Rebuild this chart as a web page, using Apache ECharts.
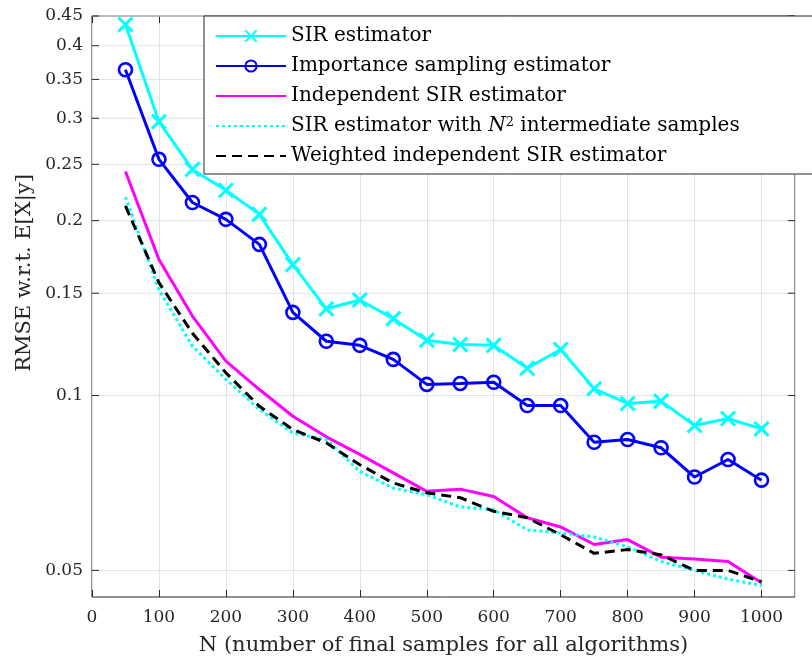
<!DOCTYPE html>
<html>
<head>
<meta charset="utf-8">
<title>RMSE vs number of samples</title>
<script src="https://cdn.jsdelivr.net/npm/echarts@6/dist/echarts.min.js"></script>
<style>
  html, body { margin: 0; padding: 0; background: #fff; }
  #chart { width: 812px; height: 662px; }
</style>
</head>
<body>
<div id="chart"></div>
<script>
// N values on the x axis
const sampleSizes = [50, 100, 150, 200, 250, 300, 350, 400, 450, 500, 550, 600, 650, 700, 750, 800, 850, 900, 950, 1000];

// RMSE per estimator
const sirEstimator = [0.435, 0.296, 0.245, 0.2256, 0.205, 0.168, 0.141, 0.146, 0.1356, 0.1245, 0.1224, 0.122, 0.1114, 0.120, 0.1027, 0.0969, 0.0978, 0.0888, 0.0913, 0.0876];
const importanceSampling = [0.3636, 0.255, 0.2149, 0.201, 0.182, 0.139, 0.124, 0.122, 0.1154, 0.1045, 0.1049, 0.1054, 0.0961, 0.0961, 0.0831, 0.084, 0.0813, 0.0724, 0.0776, 0.0715];
const independentSir = [0.243, 0.1715, 0.137, 0.1146, 0.1024, 0.0921, 0.0849, 0.0792, 0.0736, 0.0684, 0.069, 0.067, 0.0616, 0.0594, 0.0554, 0.0565, 0.0527, 0.0523, 0.0518, 0.0476];
const sirN2 = [0.2197, 0.152, 0.1216, 0.1066, 0.0946, 0.0862, 0.084, 0.074, 0.0693, 0.0675, 0.0643, 0.0636, 0.0587, 0.058, 0.0571, 0.0549, 0.0518, 0.05, 0.0483, 0.0471];
const weightedIndependentSir = [0.212, 0.1564, 0.128, 0.1094, 0.0958, 0.0874, 0.0829, 0.076, 0.0707, 0.068, 0.0667, 0.0632, 0.0616, 0.0576, 0.0535, 0.0543, 0.0532, 0.05, 0.05, 0.0478];

// y ticks (log axis, matlab style labels)
const yTickValues = [0.05, 0.1, 0.15, 0.2, 0.25, 0.3, 0.35, 0.4, 0.45];
const yTickLabels = ['0.05', '0.1', '0.15', '0.2', '0.25', '0.3', '0.35', '0.4', '0.45'];

const X_MIN = 0, X_MAX = 1050;
const Y_MIN = 0.045, Y_MAX = 0.45;
const FONT = 'DejaVu Serif';
const AXIS_COLOR = '#262626';
const GRID_COLOR = '#e2e2e2';

const chart = echarts.init(document.getElementById('chart'));

const pairs = (vals) => sampleSizes.map((n, i) => [n, vals[i]]);

function renderYTick(params, api) {
  const v = api.value(1);
  const left = api.coord([X_MIN, v]);
  const right = api.coord([X_MAX, v]);
  return {
    type: 'group',
    children: [
      { type: 'line', shape: { x1: left[0], y1: left[1], x2: right[0], y2: right[1] }, style: { stroke: GRID_COLOR, lineWidth: 1 } },
      { type: 'line', shape: { x1: left[0], y1: left[1], x2: left[0] + 7, y2: left[1] }, style: { stroke: AXIS_COLOR, lineWidth: 1 } },
      { type: 'line', shape: { x1: right[0] - 7, y1: right[1], x2: right[0], y2: right[1] }, style: { stroke: AXIS_COLOR, lineWidth: 1 } },
      {
        type: 'text',
        x: left[0] - 9,
        y: left[1],
        style: {
          text: yTickLabels[params.dataIndex],
          textAlign: 'right',
          textVerticalAlign: 'middle',
          font: '17px "' + FONT + '"',
          fill: AXIS_COLOR
        }
      }
    ]
  };
}

const legendNames = [
  'SIR estimator',
  'Importance sampling estimator',
  'Independent SIR estimator',
  'SIR estimator with N2 intermediate samples',
  'Weighted independent SIR estimator'
];

// lines without markers: hide the symbol in their legend icons
const noMarker = { opacity: 0 };

const option = {
  animation: false,
  backgroundColor: '#fff',
  grid: {
    left: 92, top: 16, right: 17, bottom: 65,
    outerBoundsMode: 'none',
    show: true, borderColor: AXIS_COLOR, borderWidth: 1, backgroundColor: 'transparent'
  },
  legend: {
    data: [
      { name: legendNames[0] },
      { name: legendNames[1] },
      { name: legendNames[2], itemStyle: noMarker },
      { name: legendNames[3], itemStyle: noMarker },
      { name: legendNames[4], itemStyle: noMarker }
    ],
    orient: 'vertical',
    left: 204,
    top: 16,
    padding: [10, 84, 8, 11],
    itemWidth: 70,
    itemHeight: 14,
    itemGap: 10,
    backgroundColor: '#fff',
    borderColor: AXIS_COLOR,
    borderWidth: 1,
    borderRadius: 0,
    textStyle: {
      fontFamily: FONT,
      fontSize: 20,
      color: '#000',
      rich: {
        it: { fontFamily: FONT, fontSize: 20, fontStyle: 'italic', color: '#000' },
        sup: { fontFamily: FONT, fontSize: 13, verticalAlign: 'top', padding: [0, 0, 6, 0], color: '#000' }
      }
    },
    formatter: (name) => name === legendNames[3]
      ? 'SIR estimator with {it|N}{sup|2} intermediate samples'
      : name
  },
  graphic: [{
    type: 'text',
    x: 25,
    y: 273,
    rotation: Math.PI / 2,
    style: {
      text: 'RMSE w.r.t. E[X|y]',
      font: '21px "' + FONT + '"',
      textAlign: 'center',
      textVerticalAlign: 'middle',
      fill: AXIS_COLOR
    }
  }],
  xAxis: [{
    type: 'value',
    min: X_MIN,
    max: X_MAX,
    interval: 100,
    name: 'N (number of final samples for all algorithms)',
    nameLocation: 'middle',
    nameGap: 38,
    nameTextStyle: { fontFamily: FONT, fontSize: 21, color: AXIS_COLOR },
    axisLine: { show: false },
    axisTick: { inside: true, length: 7, lineStyle: { color: AXIS_COLOR } },
    axisLabel: { fontFamily: FONT, fontSize: 17, color: AXIS_COLOR, margin: 12, showMaxLabel: false, formatter: (v) => String(v) },
    splitLine: { show: true, lineStyle: { color: GRID_COLOR, width: 1 } }
  }, {
    type: 'value',
    position: 'top',
    min: X_MIN,
    max: X_MAX,
    interval: 100,
    axisLine: { show: false },
    axisTick: { inside: true, length: 7, lineStyle: { color: AXIS_COLOR } },
    axisLabel: { show: false },
    splitLine: { show: false }
  }],
  yAxis: {
    type: 'log',
    logBase: 10,
    min: Y_MIN,
    max: Y_MAX,
    axisLine: { show: false },
    axisTick: { show: false },
    axisLabel: { show: false },
    splitLine: { show: false }
  },
  series: [
    {
      name: 'yTicks',
      type: 'custom',
      z: 1,
      silent: true,
      renderItem: renderYTick,
      encode: { x: 0, y: 1 },
      data: yTickValues.map((v) => [X_MIN, v])
    },
    {
      name: legendNames[0],
      type: 'line',
      z: 3,
      data: pairs(sirEstimator),
      symbol: 'path://M0,0L10,10M0,10L10,0',
      symbolSize: 14,
      lineStyle: { color: '#00ffff', width: 3 },
      itemStyle: { color: '#00ffff', borderColor: '#00ffff', borderWidth: 3 }
    },
    {
      name: legendNames[1],
      type: 'line',
      z: 3,
      data: pairs(importanceSampling),
      symbol: 'circle',
      symbolSize: 13,
      lineStyle: { color: '#0000ff', width: 3 },
      itemStyle: { color: 'rgba(0,0,0,0)', borderColor: '#0000ff', borderWidth: 2.6 }
    },
    {
      name: legendNames[2],
      type: 'line',
      z: 3,
      data: pairs(independentSir),
      symbol: 'none',
      lineStyle: { color: '#ff00ff', width: 3 },
      itemStyle: { color: '#ff00ff' }
    },
    {
      name: legendNames[3],
      type: 'line',
      z: 3,
      data: pairs(sirN2),
      symbol: 'none',
      lineStyle: { color: '#00ffff', width: 3, type: [3, 3] },
      itemStyle: { color: '#00ffff' }
    },
    {
      name: legendNames[4],
      type: 'line',
      z: 3,
      data: pairs(weightedIndependentSir),
      symbol: 'none',
      lineStyle: { color: '#000000', width: 3, type: [10, 6] },
      itemStyle: { color: '#000000' }
    }
  ]
};

chart.setOption(option);
</script>
</body>
</html>
